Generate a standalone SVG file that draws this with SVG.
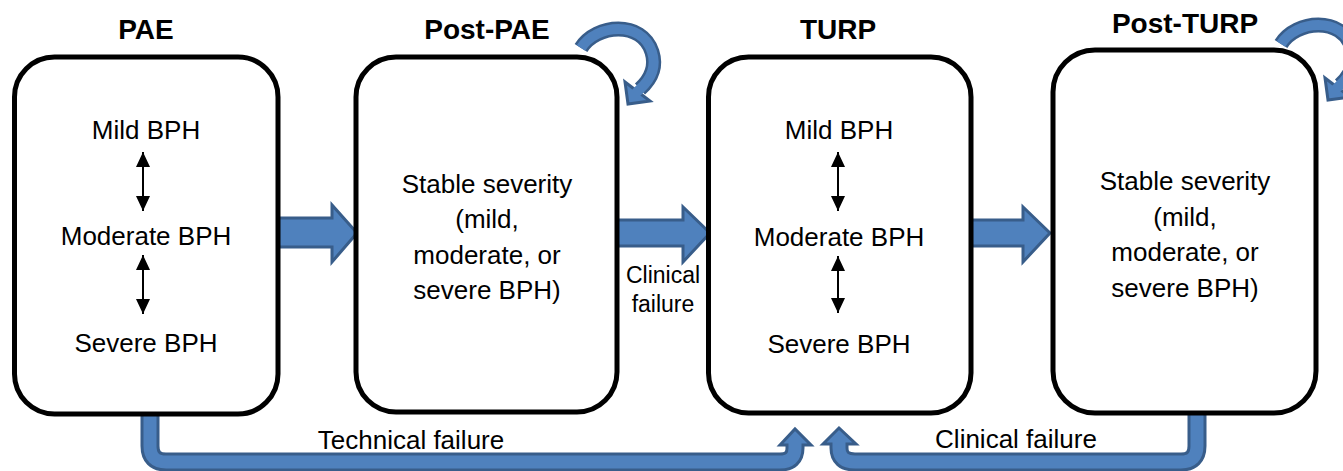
<svg xmlns="http://www.w3.org/2000/svg" xmlns:xlink="http://www.w3.org/1999/xlink" width="1343" height="471" viewBox="0 0 1343 471">
<style>
.box{fill:#fff;stroke:#000;stroke-width:5}
.t{font-family:"Liberation Sans",Arial,sans-serif;font-size:26px;fill:#000;text-anchor:middle}
.h{font-family:"Liberation Sans",Arial,sans-serif;font-size:28px;font-weight:bold;fill:#000;text-anchor:middle}
.s{font-family:"Liberation Sans",Arial,sans-serif;font-size:23px;fill:#000;text-anchor:middle}
.b{font-family:"Liberation Sans",Arial,sans-serif;font-size:26px;fill:#000;text-anchor:middle}
.blk{fill:#4f81bd;stroke:#385d8a;stroke-width:3;stroke-linejoin:miter}
.sd{fill:none;stroke:#385d8a;stroke-width:19}
.sl{fill:none;stroke:#4f81bd;stroke-width:13}
.ld{fill:none;stroke:#385d8a;stroke-width:15}
.ll{fill:none;stroke:#4f81bd;stroke-width:10}
.dbl{stroke:#000;stroke-width:2;marker-start:url(#ah);marker-end:url(#ah)}
</style>
<defs>
<marker id="ah" viewBox="0 0 15 14" refX="15" refY="7" markerWidth="15" markerHeight="14" markerUnits="userSpaceOnUse" orient="auto-start-reverse"><path d="M0,0 L15,7 L0,14 z" fill="#000"/></marker>
<g id="loop">
<path class="ld" d="M581,48 C596,24 642,20 652,52 C657,68 650,80 640,89"/>
<polygon class="blk" points="625,82 650,101 628,104"/>
<path class="ll" d="M581,48 C596,24 642,20 652,52 C657,68 650,80 640,89 L635,94"/>
</g>
</defs>
<rect width="1343" height="471" fill="#fff"/>
<g id="connectors">
<polygon class="blk" points="276,218 332,218 332,205 357,233 332,262 332,247 276,247"/>
<polygon class="blk" points="615,220 683,220 683,207 710,233 683,262 683,246 615,246"/>
<polygon class="blk" points="968,220 1023,220 1023,207 1050,233 1023,262 1023,246 968,246"/>
<path class="sd" d="M150,410 V446 Q150,462 166,462 H780 Q795,462 795,448 V445"/>
<polygon class="blk" points="780,445 795,429 811,445"/>
<path class="sl" d="M150,410 V446 Q150,462 166,462 H780 Q795,462 795,448 V440"/>
<path class="sd" d="M1197,410 V446 Q1197,462 1181,462 H855 Q839,462 839,448 V444"/>
<polygon class="blk" points="823,444 839,428 856,444"/>
<path class="sl" d="M1197,410 V446 Q1197,462 1181,462 H855 Q839,462 839,448 V439"/>
<use xlink:href="#loop" href="#loop"/>
<use xlink:href="#loop" href="#loop" transform="translate(700,-4)"/>
</g>
<g id="pae">
<rect class="box" x="14.5" y="57" width="263.5" height="357" rx="40"/>
<text class="h" x="146" y="39">PAE</text>
<text class="t" x="146" y="139">Mild BPH</text>
<text class="t" x="146" y="245">Moderate BPH</text>
<text class="t" x="146" y="352">Severe BPH</text>
<line class="dbl" x1="143" y1="152" x2="143" y2="211"/>
<line class="dbl" x1="143" y1="255" x2="143" y2="314"/>
</g>
<g id="post-pae">
<rect class="box" x="356" y="57" width="261" height="355" rx="40"/>
<text class="h" x="487" y="39">Post-PAE</text>
<text class="t" x="487" y="193">Stable severity</text>
<text class="t" x="487" y="228">(mild,</text>
<text class="t" x="487" y="264">moderate, or</text>
<text class="t" x="487" y="299">severe BPH)</text>
</g>
<g id="turp">
<rect class="box" x="708.5" y="57" width="262.5" height="356" rx="40"/>
<text class="h" x="838" y="39">TURP</text>
<text class="t" x="839" y="139">Mild BPH</text>
<text class="t" x="839" y="246">Moderate BPH</text>
<text class="t" x="839" y="353">Severe BPH</text>
<line class="dbl" x1="838" y1="152" x2="838" y2="211"/>
<line class="dbl" x1="838" y1="256" x2="838" y2="313"/>
</g>
<g id="post-turp">
<rect class="box" x="1053" y="50" width="263" height="363" rx="42"/>
<text class="h" x="1185" y="33">Post-TURP</text>
<text class="t" x="1185" y="190">Stable severity</text>
<text class="t" x="1185" y="226">(mild,</text>
<text class="t" x="1185" y="261">moderate, or</text>
<text class="t" x="1185" y="297">severe BPH)</text>
</g>
<g id="labels">
<text class="s" x="663" y="283">Clinical</text>
<text class="s" x="663" y="312">failure</text>
<text class="b" x="411" y="449">Technical failure</text>
<text class="b" x="1016" y="448">Clinical failure</text>
</g>
</svg>
